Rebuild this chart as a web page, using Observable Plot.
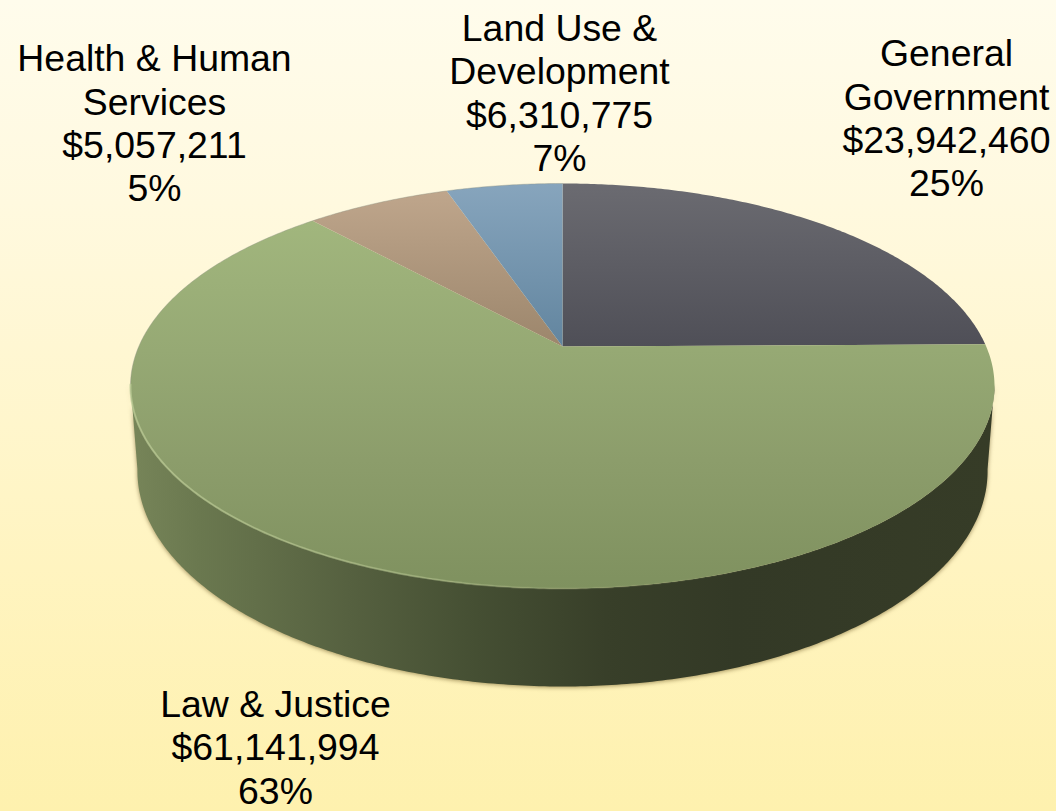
<!DOCTYPE html>
<html>
<head>
<meta charset="utf-8">
<script src="https://cdn.jsdelivr.net/npm/d3@7"></script>
<script src="https://cdn.jsdelivr.net/npm/@observablehq/plot@0.6"></script>
<style>
html,body{margin:0;padding:0;width:1056px;height:811px;overflow:hidden;
background:linear-gradient(to bottom,#fffcec 0%,#fff9df 25%,#fff4c0 70%,#fef1ae 100%);}
svg{display:block;background:transparent !important;}
</style>
</head>
<body>
<div id="chart"></div>
<script>
// Data
const categories = ["General Government", "Law & Justice", "Land Use & Development", "Health & Human Services"];
const labelNames = ["General\nGovernment", "Law & Justice", "Land Use &\nDevelopment", "Health & Human\nServices"];
const dollars = [23942460, 61141994, 6310775, 5057211];
const percents = [25, 63, 7, 5];

// Layout
const W = 1056, H = 811;
const labelX = [946, 275, 559, 154];
const labelY = [117, 746, 91.5, 122];
const gradientIds = ["gGov", "gLaw", "gLand", "gHealth"];
const total = d3.sum(dollars);

// Perspective projection of the unit disc
const P = {cx: 562, cy: 346, A: 423.7, B: 194.8, k: 0.195};
function topPt(t) {
  const u = Math.sin(t), v = Math.cos(t), w = 1 + P.k * v;
  return {x: P.cx + P.A * u / w, y: P.cy - P.B * v / w};
}
function bottomPt(t) {
  const p = topPt(t);
  return {x: P.cx + 0.984 * (p.x - P.cx), y: P.cy + 1.064 * (p.y - P.cy) + 82.5};
}
function arc(f, a, b) {
  const n = Math.max(2, Math.ceil(Math.abs(b - a) / 0.01));
  return d3.range(n + 1).map(i => f(a + (b - a) * i / n));
}

// Wedges from the values
let acc = 0;
const wedges = dollars.map((d, i) => {
  const a = acc / total * 2 * Math.PI;
  acc += d;
  const b = acc / total * 2 * Math.PI;
  const pts = [{x: P.cx, y: P.cy}, ...arc(topPt, a, b), {x: P.cx, y: P.cy}];
  return {name: categories[i], pts};
});

const tLeft = 2 * Math.PI * 0.72, tRight = 2 * Math.PI * 0.28;
const side = [...arc(topPt, tRight, tLeft), ...arc(bottomPt, tLeft, tRight)];
side.push(side[0]);
const frontRim = arc(topPt, tRight, tLeft);
const backRim = arc(topPt, tLeft, 2 * Math.PI + 0.0);

const labels = categories.map((c, i) => ({
  text: `${labelNames[i]}\n${d3.format("$,")(dollars[i])}\n${percents[i]}%`,
  x: labelX[i], y: labelY[i]
}));

function defs() {
  const ns = "http://www.w3.org/2000/svg";
  const d = document.createElementNS(ns, "defs");
  const mk = (id, x1, y1, x2, y2, stops) => {
    const g = document.createElementNS(ns, "linearGradient");
    g.setAttribute("id", id);
    g.setAttribute("gradientUnits", "userSpaceOnUse");
    g.setAttribute("x1", x1); g.setAttribute("y1", y1);
    g.setAttribute("x2", x2); g.setAttribute("y2", y2);
    stops.forEach(([o, c, op]) => {
      const s = document.createElementNS(ns, "stop");
      s.setAttribute("offset", o); s.setAttribute("stop-color", c);
      if (op != null) s.setAttribute("stop-opacity", op);
      g.appendChild(s);
    });
    d.appendChild(g);
  };
  mk("gGov", 0, 183, 0, 346, [[0, "#6b6b71"], [1, "#4f4f57"]]);
  mk("gLaw", 0, 222, 0, 588, [[0, "#a1b67d"], [0.35, "#96a974"], [0.65, "#8c9d6b"], [1, "#7f915f"]]);
  mk("gLand", 0, 190, 0, 346, [[0, "#bfa68c"], [1, "#9c866c"]]);
  mk("gHealth", 0, 183, 0, 346, [[0, "#87a5bd"], [1, "#62859f"]]);
  mk("gSide", 130, 0, 994, 0, [
    [0, "#778559"], [0.08, "#6a784f"], [0.25, "#566140"], [0.4, "#454f33"],
    [0.55, "#383f29"], [0.7, "#333926"], [1, "#363c27"]
  ]);
  mk("gRim", 130, 0, 994, 0, [
    [0, "#b9c994", 0.75], [0.35, "#aabb88", 0.6], [0.5, "#9fb07f", 0.3], [0.7, "#8d9d6e", 0.1], [1, "#8d9d6e", 0.05]
  ]);
  return d;
}

const chart = Plot.plot({
  width: W, height: H,
  margin: 0,
  x: {domain: [0, W], range: [0, W], axis: null},
  y: {domain: [0, H], range: [0, H], axis: null},
  marks: [
    defs,
    Plot.line(side, {x: "x", y: "y", fill: "url(#gSide)", stroke: "none", curve: "linear",
      imageFilter: "drop-shadow(0px 1.5px 2px rgba(90,70,20,0.55))"}),
    ...wedges.map((w, i) =>
      Plot.line(w.pts, {x: "x", y: "y", fill: `url(#${gradientIds[i]})`, stroke: "none", curve: "linear"})),
    Plot.line(backRim, {x: "x", y: "y", stroke: "#8f9385", strokeWidth: 1, strokeOpacity: 0.4, curve: "linear"}),
    Plot.line(frontRim, {x: "x", y: "y", stroke: "url(#gRim)", strokeWidth: 2, curve: "linear", imageFilter: "blur(0.6px)"}),
    Plot.text(labels, {
      x: "x", y: "y", text: "text",
      fontFamily: "Liberation Sans, Arial, sans-serif", fontSize: 37.4, lineHeight: 1.16,
      fill: "#000", textAnchor: "middle", lineAnchor: "middle"
    })
  ]
});
document.getElementById("chart").appendChild(chart);
</script>
</body>
</html>
